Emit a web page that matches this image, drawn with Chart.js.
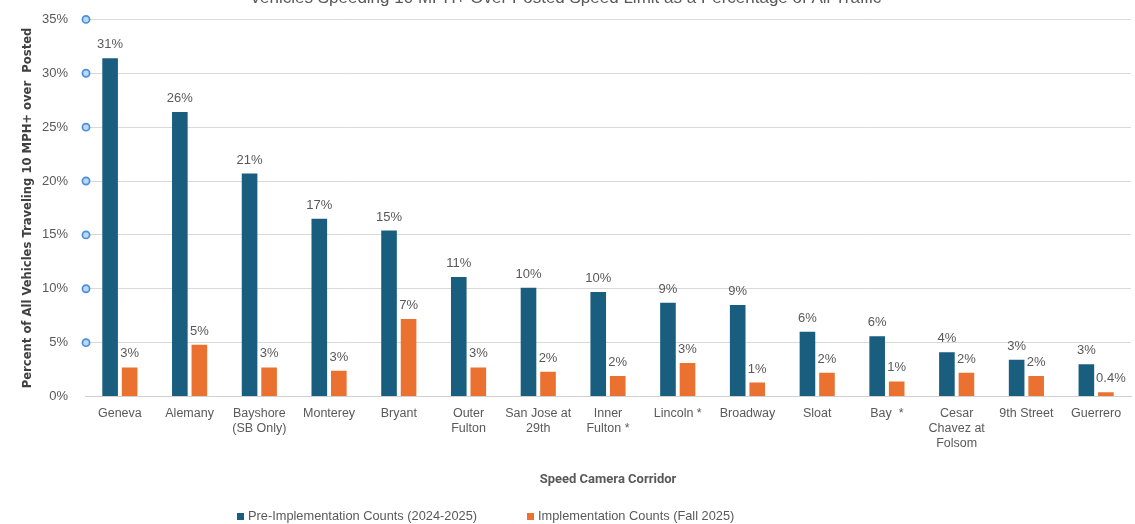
<!DOCTYPE html>
<html>
<head>
<meta charset="utf-8">
<script src="https://cdn.jsdelivr.net/npm/chart.js@4.4.1/dist/chart.umd.min.js"></script>
<style>
    html, body { margin: 0; padding: 0; background: #fff; overflow: hidden; }
    #wrap { position: absolute; left: 0; top: -20px; width: 1135px; height: 544px; }
    #legend { position: absolute; top: 508px; left: 0; width: 1135px; height: 16px;
              font: 12.8px 'Liberation Sans', Arial, sans-serif; color: #595959; }
    #legend div { position: absolute; top: 0; white-space: nowrap; }
    #legend span.box { display: inline-block; width: 7px; height: 7px; margin-right: 4px; }
</style>
</head>
<body>
<div id="wrap"><canvas id="speed-chart"></canvas></div>
<div id="legend"></div>
<script>
const corridors = [
    'Geneva', 'Alemany', ['Bayshore', '(SB Only)'], 'Monterey', 'Bryant', ['Outer', 'Fulton'],
    ['San Jose at', '29th'], ['Inner', 'Fulton *'], 'Lincoln *', 'Broadway', 'Sloat', 'Bay  *',
    ['Cesar', 'Chavez at', 'Folsom'], '9th Street', 'Guerrero'
];
const preCounts = [31.4, 26.4, 20.7, 16.5, 15.4, 11.1, 10.1, 9.7, 8.7, 8.5, 6.0, 5.6, 4.1, 3.4, 3.0];
const implCounts = [2.7, 4.8, 2.7, 2.4, 7.2, 2.7, 2.3, 1.9, 3.1, 1.3, 2.2, 1.4, 2.2, 1.9, 0.4];
const preLabels = ['31%', '26%', '21%', '17%', '15%', '11%', '10%', '10%', '9%', '9%', '6%', '6%', '4%', '3%', '3%'];
const implLabels = ['3%', '5%', '3%', '3%', '7%', '3%', '2%', '2%', '3%', '1%', '2%', '1%', '2%', '2%', '0.4%'];
const yTicks = [0, 5, 10, 15, 20, 25, 30, 35];

const grey = '#595959';

// value labels above each bar
const barLabels = {
    id: 'barLabels',
    afterDatasetsDraw(chart) {
        const ctx = chart.ctx;
        const texts = [preLabels, implLabels];
        ctx.save();
        ctx.font = '13px "Liberation Sans", Arial, sans-serif';
        ctx.fillStyle = grey;
        ctx.textAlign = 'center';
        ctx.textBaseline = 'bottom';
        chart.data.datasets.forEach((ds, i) => {
            chart.getDatasetMeta(i).data.forEach((bar, j) => {
                const dx = (i === 1 && texts[i][j].length > 3) ? 5 : 0;
                ctx.fillText(texts[i][j], bar.x + dx, bar.y - 7);
            });
        });
        ctx.restore();
    }
};

// little blue rings on the y axis ticks
const tickDots = {
    id: 'tickDots',
    afterDraw(chart) {
        const ctx = chart.ctx;
        const y = chart.scales.y;
        ctx.save();
        y.ticks.forEach(t => {
            if (t.value === 0) return;
            const py = y.getPixelForValue(t.value);
            ctx.beginPath();
            ctx.arc(chart.chartArea.left + 1, py, 3.6, 0, Math.PI * 2);
            ctx.fillStyle = '#bcd8f4';
            ctx.fill();
            ctx.lineWidth = 1.7;
            ctx.strokeStyle = '#4a90d9';
            ctx.stroke();
        });
        ctx.restore();
    }
};

document.addEventListener('DOMContentLoaded', function () {
    const ctx = document.getElementById('speed-chart').getContext('2d');

    const chart = new Chart(ctx, {
        type: 'bar',
        data: {
            labels: corridors,
            datasets: [{
                label: 'Pre-Implementation Counts (2024-2025)',
                data: preCounts,
                backgroundColor: '#195e7f',
                categoryPercentage: 0.56,
                barPercentage: 0.8
            }, {
                label: 'Implementation Counts (Fall 2025)',
                data: implCounts,
                backgroundColor: '#ea7130',
                categoryPercentage: 0.56,
                barPercentage: 0.8
            }]
        },
        options: {
            responsive: true,
            maintainAspectRatio: false,
            animation: false,
            layout: { padding: { left: 0, right: 4, bottom: 34 } },
            scales: {
                x: {
                    grid: { display: false, drawTicks: false },
                    border: { color: '#d0d0d0' },
                    ticks: {
                        color: grey,
                        padding: 10,
                        autoSkip: false,
                        maxRotation: 0,
                        font: { family: 'Liberation Sans', size: 12.5 }
                    },
                    title: {
                        display: true,
                        text: 'Speed Camera Corridor',
                        color: grey,
                        font: { family: 'Roboto', size: 13, weight: 'bold' },
                        padding: { top: 0, bottom: 2 }
                    },
                    afterFit(scale) { scale.height = 93.5; }
                },
                y: {
                    min: 0,
                    max: 35,
                    afterBuildTicks(scale) { scale.ticks = yTicks.map(v => ({ value: v })); },
                    grid: { color: '#d9d9d9', drawTicks: false },
                    border: { display: false },
                    ticks: {
                        color: grey,
                        padding: 17,
                        font: { family: 'Liberation Sans', size: 13 },
                        callback: v => v + '%'
                    },
                    title: {
                        display: true,
                        text: 'Percent of All Vehicles Traveling 10 MPH+ over  Posted',
                        color: '#404040',
                        font: { family: "'DejaVu Sans Condensed', sans-serif", size: 12.9, weight: 'bold' },
                        padding: { top: 20, bottom: 0 }
                    },
                    afterFit(scale) { scale.width = 85; }
                }
            },
            plugins: {
                legend: { display: false },
                tooltip: { enabled: false },
                title: {
                    display: true,
                    text: 'Vehicles Speeding 10 MPH+ Over Posted Speed Limit as a Percentage of All Traffic',
                    color: grey,
                    font: { family: 'Liberation Sans', size: 17, weight: 'normal' },
                    padding: { top: 8, bottom: 11 }
                }
            }
        },
        plugins: [barLabels, tickDots]
    });

    const legend = document.getElementById('legend');
    const legendLeft = [237, 527];
    chart.data.datasets.forEach((ds, i) => {
        const item = document.createElement('div');
        item.style.left = legendLeft[i] + 'px';
        const box = document.createElement('span');
        box.className = 'box';
        box.style.background = ds.backgroundColor;
        item.appendChild(box);
        item.appendChild(document.createTextNode(ds.label));
        legend.appendChild(item);
    });
});
</script>
</body>
</html>
